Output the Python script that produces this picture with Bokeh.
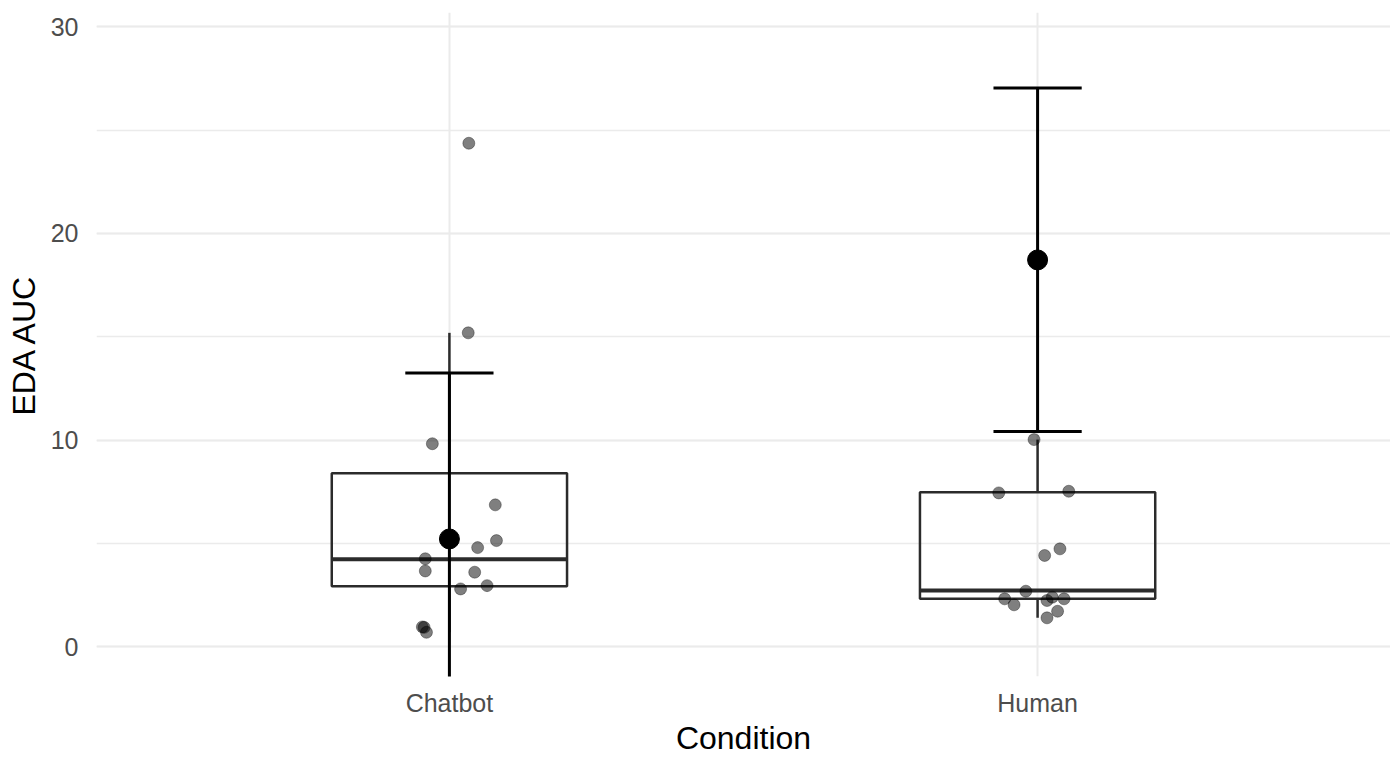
from bokeh.plotting import figure
from bokeh.models import Range1d, FixedTicker, SingleIntervalTicker
from bokeh.embed import file_html
from bokeh.resources import INLINE

# ---- data ----
categories = ["Chatbot", "Human"]

chatbot_values = [24.37, 15.19, 9.82, 6.86, 5.13, 4.79, 4.25, 3.66, 3.60, 2.79, 2.95, 0.95, 0.93, 0.69]
chatbot_jitter = [0.033, 0.032, -0.029, 0.078, 0.080, 0.048, -0.041, -0.041, 0.043, 0.019, 0.064, -0.046, -0.043, -0.039]
human_values = [10.02, 7.44, 7.52, 4.73, 4.41, 2.68, 2.31, 2.02, 2.23, 2.39, 2.31, 1.71, 1.39]
human_jitter = [-0.006, -0.066, 0.053, 0.038, 0.012, -0.020, -0.056, -0.040, 0.016, 0.025, 0.045, 0.034, 0.016]

box_q1 = [2.92, 2.31]
box_median = [4.23, 2.71]
box_q3 = [8.39, 7.47]
whisker_low = [0.69, 1.39]
whisker_high = [15.19, 10.02]

mean_values = [5.21, 18.72]
error_low = [-2.83, 10.41]
error_high = [13.25, 27.05]

# ---- figure ----
FONT = "Liberation Sans"
p = figure(width=1390, height=758, output_backend="svg", toolbar_location=None,
           x_range=Range1d(0.4, 2.6), y_range=Range1d(-1.45, 30.7),
           min_border_left=96, min_border_right=0, min_border_top=12, min_border_bottom=82)
p.outline_line_color = None
p.background_fill_color = "white"

pos = [i + 1 for i in range(len(categories))]
box_w = 0.4
cap_w = 0.15

# grid
p.xaxis.ticker = FixedTicker(ticks=pos)
p.xaxis.major_label_overrides = {i + 1: c for i, c in enumerate(categories)}
p.yaxis.ticker = SingleIntervalTicker(interval=10, num_minor_ticks=2)
p.xgrid.grid_line_color = "#EBEBEB"
p.xgrid.grid_line_width = 2
p.ygrid.grid_line_color = "#EBEBEB"
p.ygrid.grid_line_width = 2
p.ygrid.minor_grid_line_color = "#EBEBEB"
p.ygrid.minor_grid_line_width = 1.5

for ax in (p.xaxis, p.yaxis):
    ax.axis_line_color = None
    ax.major_tick_line_color = None
    ax.minor_tick_line_color = None
    ax.major_tick_out = 0
    ax.major_tick_in = 0
    ax.minor_tick_out = 0
    ax.minor_tick_in = 0
    ax.major_label_text_font = FONT
    ax.major_label_text_font_size = "25px"
    ax.major_label_text_color = "#4D4D4D"
    ax.axis_label_text_font = FONT
    ax.axis_label_text_font_size = "32px"
    ax.axis_label_text_font_style = "normal"
    ax.axis_label_text_color = "black"

p.xaxis.axis_label = "Condition"
p.yaxis.axis_label = "EDA AUC"
p.yaxis.major_label_standoff = 18
p.yaxis.axis_label_standoff = 6
p.xaxis.major_label_standoff = 12
p.xaxis.axis_label_standoff = 0

# boxplot
BOXC = "#2b2b2b"
p.vbar(x=pos, width=box_w, bottom=box_q1, top=box_q3, fill_color="white",
       fill_alpha=0.0, line_color=BOXC, line_width=2.5)
p.segment(x0=[x - box_w / 2 for x in pos], x1=[x + box_w / 2 for x in pos],
          y0=box_median, y1=box_median, line_color=BOXC, line_width=4)
p.segment(x0=pos, x1=pos, y0=box_q3, y1=whisker_high, line_color=BOXC, line_width=2.5)
p.segment(x0=pos, x1=pos, y0=box_q1, y1=whisker_low, line_color=BOXC, line_width=2.5)

# jittered points
px = [1 + j for j in chatbot_jitter] + [2 + j for j in human_jitter]
py = chatbot_values + human_values
p.scatter(x=px, y=py, size=12, fill_color="black", fill_alpha=0.5,
          line_color="black", line_alpha=0.35, line_width=1)

# error bars
p.segment(x0=pos, x1=pos, y0=error_low, y1=error_high, line_color="black", line_width=3)
p.segment(x0=[x - cap_w / 2 for x in pos], x1=[x + cap_w / 2 for x in pos],
          y0=error_high, y1=error_high, line_color="black", line_width=3)
p.segment(x0=[x - cap_w / 2 for x in pos], x1=[x + cap_w / 2 for x in pos],
          y0=error_low, y1=error_low, line_color="black", line_width=3)

# means
p.scatter(x=pos, y=mean_values, size=20, fill_color="black", line_color="black")

open("out.html", "w").write(file_html(p, INLINE))
